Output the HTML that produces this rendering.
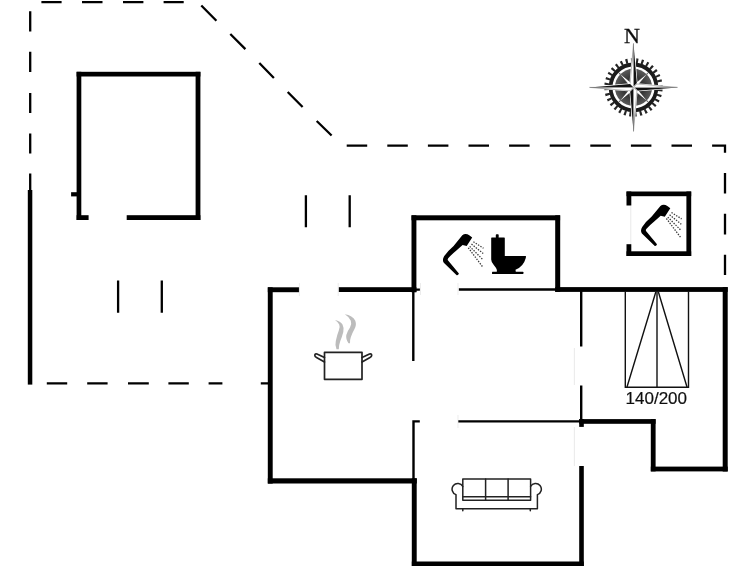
<!DOCTYPE html>
<html><head><meta charset="utf-8"><title>Floor plan</title>
<style>
html,body{margin:0;padding:0;background:#fff;overflow:hidden}
svg{display:block}
text{font-family:"Liberation Sans",sans-serif}
.w{fill:#000}
.t{stroke:#000;stroke-width:2.4;fill:none}
.d{stroke:#000;stroke-width:2.3;fill:none}
.f{stroke:#222;stroke-width:1.7;fill:none;stroke-linejoin:round;stroke-linecap:round}
</style></head><body>
<svg width="755" height="566" viewBox="0 0 755 566">
<rect width="755" height="566" fill="#fff"/>

<!-- room tints -->

<!-- dashed outline -->
<g class="d" id="dash">
<path d="M30.2 194V173.6M30.2 153.5V133.4M30.2 113V93M30.2 72V51.8M30.2 31.5V11.3"/>
<path d="M41.4 2.2H61.6M82 2.2H102.5M123 2.2H143.4M163.6 2.2H183.7"/>
<path d="M201.3 5.5L216.4 20.7M230.3 34L245.4 49.1M259.3 63L273.9 78M287.7 92L302.6 107M316.7 121L331.6 135.5"/>
<path d="M346.7 145.7H367.2M387.3 145.7H407.8M427.9 145.7H448.4M468.5 145.7H489M509.1 145.7H529.6M549.7 145.7H570.2M590.3 145.7H610.8M630.9 145.7H651.4M671.5 145.7H692M712.1 145.7H725V152.7"/>
<path d="M725 172.9V193.5M725 213.7V234.6M725 254.8V275"/>
<path d="M46.8 383.3H67.2M87.2 383.3H107.6M128 383.3H148.8M168.4 383.3H188.8M208.6 383.3H222.4M260.8 383.3H268.5"/>
</g>

<!-- short thin verticals -->
<g class="d">
<path d="M118.1 280.6V312.7M161.8 280.6V312.7M305.9 195.2V227.2M349.7 195.2V227.2"/>
</g>

<!-- garage -->
<g class="w" id="garage">
<rect x="76.6" y="71.8" width="123.8" height="4.7"/>
<rect x="76.6" y="71.8" width="4.7" height="148.2"/>
<rect x="195.6" y="71.8" width="4.8" height="148.2"/>
<rect x="76.6" y="215.2" width="12" height="4.8"/>
<rect x="126.7" y="215.2" width="73.7" height="4.8"/>
<rect x="71.1" y="192.2" width="6" height="4.2"/>
<rect x="27.8" y="190" width="4.5" height="194.6"/>
</g>

<!-- main walls -->
<g class="w" id="walls">
<rect x="267.8" y="287.3" width="4.9" height="196.3"/>
<rect x="267.8" y="287.3" width="31.3" height="4.9"/>
<rect x="338.7" y="287.2" width="77.7" height="4.8"/>
<rect x="411.5" y="215.3" width="4.9" height="77"/>
<rect x="411.5" y="215.3" width="148.6" height="5"/>
<rect x="555.2" y="215.3" width="5" height="76.6"/>
<rect x="555.2" y="287.1" width="172.5" height="4.8"/>
<rect x="722.7" y="287.1" width="5" height="184.4"/>
<rect x="650.8" y="466.6" width="76.9" height="4.8"/>
<rect x="650.8" y="419.1" width="4.8" height="52.3"/>
<rect x="579.2" y="419.1" width="76.4" height="4.7"/>
<rect x="579.2" y="419.1" width="4.6" height="7.8"/>
<rect x="579.2" y="466" width="4.6" height="100"/>
<rect x="411.8" y="561.5" width="172" height="4.5"/>
<rect x="411.8" y="478.3" width="4.9" height="88"/>
<rect x="267.8" y="478.3" width="149" height="5.2"/>
</g>

<!-- thin interior walls -->
<g class="t" id="thin">
<path d="M413.3 292V361"/>
<path d="M419.8 421.4H413.5V479"/>
<path d="M458.8 289.5H556M416 289.6H419.9"/>
<path d="M458 421.4H580"/>
<path d="M581.2 291V346.6M581.2 385.6V421"/>
</g>
<g stroke="#e6e6e6" stroke-width="0.9" fill="none">
<path d="M574.4 348V385M574.4 427V466M630.8 206V244"/>
<path d="M299.4 283V296M338.2 283V296M458 283V295M420.5 283V295M458 415V428" stroke="#e4e4e4" stroke-width="0.7"/>
</g>

<!-- bed -->
<g stroke="#111" stroke-width="1.4" fill="none" id="bed">
<path d="M625.3 291.5V387.2H688.5V291.5"/>
<path d="M657 291.5V387.2"/>
<path d="M655.8 292L627 387M658.4 292L687 387"/>
</g>
<text filter="url(#soft2)" x="656.3" y="403.6" font-size="17" text-anchor="middle" fill="#111" stroke="#111" stroke-width="0.2">140/200</text>

<!-- shower icon -->
<defs>
<filter id="soft2" x="-5%" y="-20%" width="110%" height="140%"><feGaussianBlur stdDeviation="0.3"/></filter>
<filter id="soft" x="-20%" y="-20%" width="140%" height="140%"><feGaussianBlur stdDeviation="0.5"/></filter>
<g id="shower">
<path fill="#000" d="M465.6 234Q463.8 234 462.3 235.3L453.6 245.9Q447.4 251.2 444.1 256.3Q441.9 259.9 443.8 262.8L456.7 275.2Q458.3 275.6 458.9 273.5L447.9 260.3Q447.4 259.5 448.2 258.3Q451.5 254.5 456.4 250.5L462.6 245L466.7 246.1L472.2 237.6Q470.5 236 469.2 235.2Q467.5 234 465.6 234Z"/>
<g stroke="#3a3a3a" stroke-width="1.3" stroke-dasharray="1.4 1.35" fill="none">
<path d="M473.4 241.8L483.5 248.2M471.5 244.1L483.2 253.5M469.7 246.4L483.2 260M468.3 247.8L483.2 267.6"/>
</g>
</g>
</defs>
<use href="#shower"/>
<use href="#shower" transform="translate(198.1 -29.3)"/>

<!-- shower box -->
<g class="w" id="showerbox">
<rect x="626.5" y="191.5" width="64.7" height="4.7"/>
<rect x="626.5" y="251.3" width="64.7" height="4.7"/>
<rect x="686.4" y="191.5" width="4.8" height="64.5"/>
<rect x="626.5" y="191.5" width="4.8" height="14"/>
<rect x="626.5" y="244.2" width="4.8" height="11.8"/>
</g>

<!-- toilet -->
<g fill="#000" id="toilet">
<rect x="495.8" y="234.2" width="2.9" height="4" rx="0.8"/>
<path d="M491.2 238.1Q491.2 237.5 491.8 237.5H504.2Q504.8 237.5 504.8 238.1V255.9H525.8Q526.2 256.6 525.6 258.5Q523.5 266.5 515.5 269.8L515.8 272H496.8L496.9 270Q496 267.5 493.8 265Q491.3 262.5 491.2 259.4Z"/>
<rect x="492" y="271.7" width="31.4" height="2.2" rx="0.5"/>
</g>

<!-- pot -->
<g class="f" id="pot">
<rect x="324.5" y="352.3" width="37.5" height="27"/>
<path d="M324.5 357.5L317 354Q315 353.5 314.8 355.3Q314.8 356.8 316.5 357.5L324.5 362"/>
<path d="M362 357.5L369.5 354Q371.5 353.5 371.7 355.3Q371.7 356.8 370 357.5L362 362"/>
</g>
<g fill="#bcbcbc" id="steam" filter="url(#soft)">
<path d="M336.5 349.3Q334.8 345 335.8 341Q337 335 338.8 330.5Q340.3 326.5 339.2 324.5Q338 322 335 320Q340.5 321 342.5 324.5Q344.3 328 343.3 332Q342 337 340.3 341Q338.8 345 338.8 349.3Z"/>
<path d="M348.5 343.3Q345.6 339 346.3 335Q347.5 331 350 327.5Q352 324 350.8 320.8Q349.3 317 344.8 314.3Q352.5 315.5 355.3 320.8Q356.8 325 354.5 329Q352 333.5 350.8 337.3Q349.8 340 350 343.3Z"/>
</g>
<!-- sofa -->
<g class="f" id="sofa" style="stroke-width:1.5">
<rect x="462.8" y="479" width="67.8" height="21.3"/>
<path d="M485.6 479V500.3M508.1 479V500.3M462.8 496.7H530.6"/>
<path d="M462.8 486.5A5.7 5.7 0 1 0 456 494.6V508.7H537.4V494.6A5.7 5.7 0 1 0 530.6 486.5"/>
<path d="M462.8 508.7V510.7M530.3 508.7V510.7"/>
</g>

<!-- compass -->
<g id="compass" transform="translate(633.5 87.4)">
<defs>
<radialGradient id="cg" cx="0" cy="0" r="19.2" gradientUnits="userSpaceOnUse">
<stop offset="0" stop-color="#0c0c0c"/><stop offset="0.5" stop-color="#333"/><stop offset="1" stop-color="#5c5c5c"/>
</radialGradient>
<linearGradient id="lg" x1="0" y1="0" x2="0" y2="-44" gradientUnits="userSpaceOnUse"><stop offset="0" stop-color="#fff"/><stop offset="0.45" stop-color="#fff"/><stop offset="0.62" stop-color="#cfcfcf"/><stop offset="1" stop-color="#8a8a8a"/></linearGradient>
</defs>
<circle r="26.8" fill="none" stroke="#262626" stroke-width="4.8" stroke-dasharray="2.1 3.162" transform="rotate(4)"/>
<circle r="22.9" fill="none" stroke="#1c1c1c" stroke-width="3.8"/>
<circle r="18.6" fill="url(#cg)"/>
<g id="cdiag">
<path d="M15.4 -15.4L2.6 0L0 0L0 -2.6Z" fill="#fff" stroke="#222" stroke-width="0.5" stroke-linejoin="round"/>
</g>
<use href="#cdiag" transform="rotate(90)"/>
<use href="#cdiag" transform="rotate(180)"/>
<use href="#cdiag" transform="rotate(270)"/>
<g id="cmain">
<path d="M0 -44L3.4 -3.4L0 0L-3.4 -3.4Z" fill="#fff" stroke="#fff" stroke-width="1.4" stroke-linejoin="round"/>
<path d="M0 -44L3.4 -3.4L0 0Z" fill="#111"/>
<path d="M0 -44L-3.4 -3.4L0 0Z" fill="url(#lg)" stroke="#666" stroke-width="0.45" stroke-linejoin="round"/>
</g>
<use href="#cmain" transform="rotate(90)"/>
<use href="#cmain" transform="rotate(180)"/>
<use href="#cmain" transform="rotate(270)"/>
</g>
<text filter="url(#soft2)" x="631.9" y="43.1" font-size="22" text-anchor="middle" fill="#111" stroke="#111" stroke-width="0.3" style='font-family:"Liberation Serif",serif'>N</text>
</svg>
</body></html>
